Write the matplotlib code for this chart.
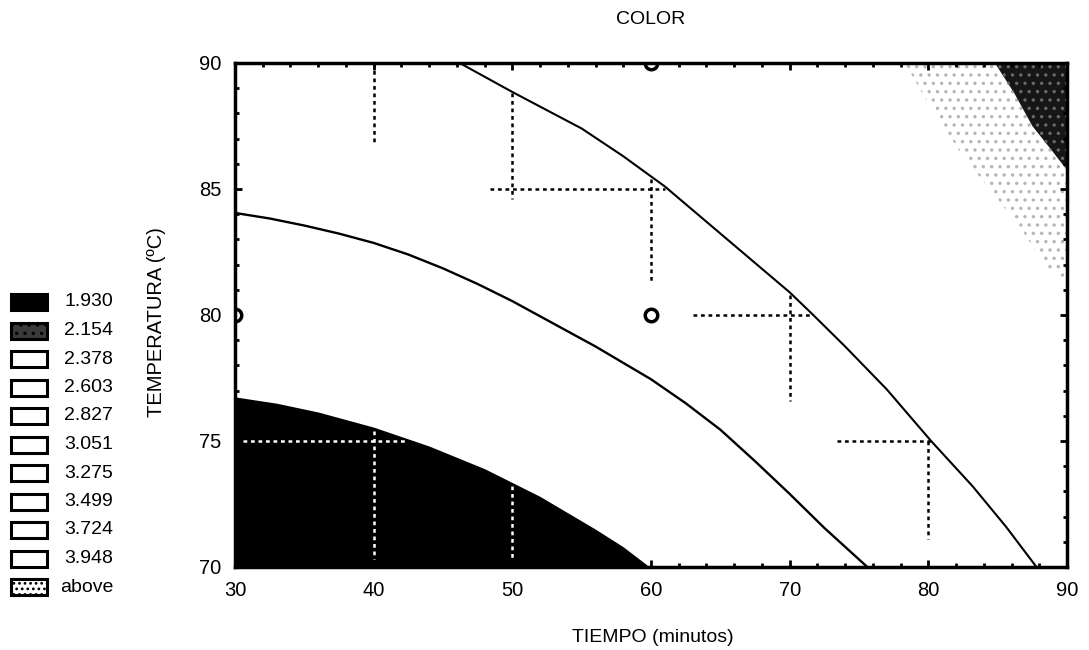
import matplotlib
matplotlib.use("Agg")
import matplotlib.pyplot as plt
from matplotlib.patches import Rectangle
from matplotlib.ticker import MultipleLocator

plt.rcParams['font.family'] = ['Liberation Sans', 'DejaVu Sans']
plt.rcParams['hatch.linewidth'] = 1.2

# ---- data ----
title = "COLOR"
x_label = "TIEMPO (minutos)"
y_label = "TEMPERATURA (ºC)"
x_ticks = [30, 40, 50, 60, 70, 80, 90]
y_ticks = [70, 75, 80, 85, 90]
legend_levels = ["1.930", "2.154", "2.378", "2.603", "2.827", "3.051",
                 "3.275", "3.499", "3.724", "3.948", "above"]

# lowest band boundary (black region, <= 1.930)
black_x = [30, 33, 36, 40, 44, 48, 52, 56, 58, 59.9]
black_y = [76.75, 76.5, 76.15, 75.55, 74.8, 73.9, 72.8, 71.5, 70.8, 70.0]

# solid contour line (lower)
lineA_x = [30, 32.5, 35, 37.5, 40, 42.5, 45, 47.5, 50, 53, 56, 60, 62.5, 65, 67.5, 70, 72.5, 75.6]
lineA_y = [84.05, 83.83, 83.55, 83.23, 82.86, 82.4, 81.85, 81.23, 80.55, 79.65, 78.75,
           77.45, 76.5, 75.45, 74.2, 72.9, 71.55, 70.0]

# solid contour line (upper)
lineB_x = [46.2, 50, 55, 58, 61, 64, 67, 70, 71.7, 74, 77, 80.2, 83.2, 85.6, 87.8]
lineB_y = [90.0, 88.85, 87.4, 86.3, 85.1, 83.7, 82.3, 80.9, 80.0, 78.75, 77.05,
           75.0, 73.2, 71.6, 70.0]

# top-right stippled ("above") band boundary
light_x = [78.3, 80.1, 82.5, 84.4, 86.6, 88.5, 90.0]
light_y = [90.0, 88.3, 86.3, 85.0, 83.5, 81.9, 81.3]

# top-right dark corner boundary
dark_x = [84.8, 86.2, 87.5, 88.8, 90.0]
dark_y = [90.0, 88.8, 87.5, 86.6, 85.75]

# dotted guide segments: (x0, y0, x1, y1)
dotted_black = [(40, 90, 40, 86.8), (50, 88.8, 50, 84.6), (48.4, 85, 61, 85),
                (60, 85.4, 60, 81.3), (63, 80, 71.7, 80), (70, 80.8, 70, 76.6),
                (73.4, 75, 80.3, 75), (80, 75, 80, 71.1)]
dotted_white = [(30.6, 75, 42.4, 75), (40, 75.4, 40, 70.3), (50, 73.2, 50, 70.3)]

# design points
pts_x = [60, 60, 30]
pts_y = [80, 90, 80]

# ---- figure ----
fig = plt.figure(figsize=(10.89, 6.5), dpi=100)
ax = fig.add_axes([235/1089, 1 - 567/650, (1067-235)/1089, (567-63)/650])

ax.set_xlim(30, 90)
ax.set_ylim(70, 90)

ax.fill_between(black_x, 70, black_y, color='black', lw=0, zorder=1)
ax.fill_between(light_x, light_y, 90, facecolor='white', hatch='..',
                edgecolor='#b5b5b5', lw=0, zorder=1)
ax.fill_between(dark_x, dark_y, 90, facecolor='#161616', hatch='..',
                edgecolor='#6a6a6a', lw=0, zorder=1)

ax.plot(lineA_x, lineA_y, color='black', lw=1.7, zorder=3)
ax.plot(lineB_x, lineB_y, color='black', lw=1.5, zorder=3)

for (x0, y0, x1, y1) in dotted_black:
    ax.plot([x0, x1], [y0, y1], color='black', lw=1.8, ls=(0, (1.5, 1.5)), zorder=2)
for (x0, y0, x1, y1) in dotted_white:
    ax.plot([x0, x1], [y0, y1], color='white', lw=1.8, ls=(0, (1.5, 1.5)), zorder=2)

ax.plot(pts_x, pts_y, ls='none', marker='o', ms=9, mfc='white', mec='black',
        mew=2.5, zorder=4, clip_on=True)

ax.set_xticks(x_ticks)
ax.set_yticks(y_ticks)
ax.xaxis.set_minor_locator(MultipleLocator(2))
ax.yaxis.set_minor_locator(MultipleLocator(1))
ax.tick_params(which='both', direction='in', top=True, right=True, width=2)
ax.tick_params(which='major', length=5, labelsize=14.5, pad=10)
ax.tick_params(which='minor', length=3)
for s in ax.spines.values():
    s.set_linewidth(2.5)
    s.set_zorder(5)

fig.text(651/1089, 1 - 20/650, title, ha='center', va='center', fontsize=14)
fig.text(653/1089, 1 - 637/650, x_label, ha='center', va='center', fontsize=14)
fig.text(157/1089, 1 - 322/650, y_label, ha='center', va='center',
         rotation=90, fontsize=14.5)

# ---- legend ----
row0 = 302
step = 28.5
for i, lab in enumerate(legend_levels):
    yc = row0 + i * step
    if i == 0:
        kw = dict(facecolor='black', edgecolor='black')
    elif i == 1:
        kw = dict(facecolor='#3a3a3a', edgecolor='black', hatch='..')
    elif lab == "above":
        kw = dict(facecolor='white', edgecolor='black', hatch='...')
    else:
        kw = dict(facecolor='white', edgecolor='black')
    r = Rectangle((11/1089, 1 - (yc + 8)/650), 36/1089, 16/650,
                  transform=fig.transFigure, lw=2.2, **kw)
    fig.patches.append(r)
    tx = 60 if lab == "above" else 64
    fig.text(tx/1089, 1 - yc/650, lab, ha='left', va='center', fontsize=14)

fig.savefig("out.png", dpi=100)
